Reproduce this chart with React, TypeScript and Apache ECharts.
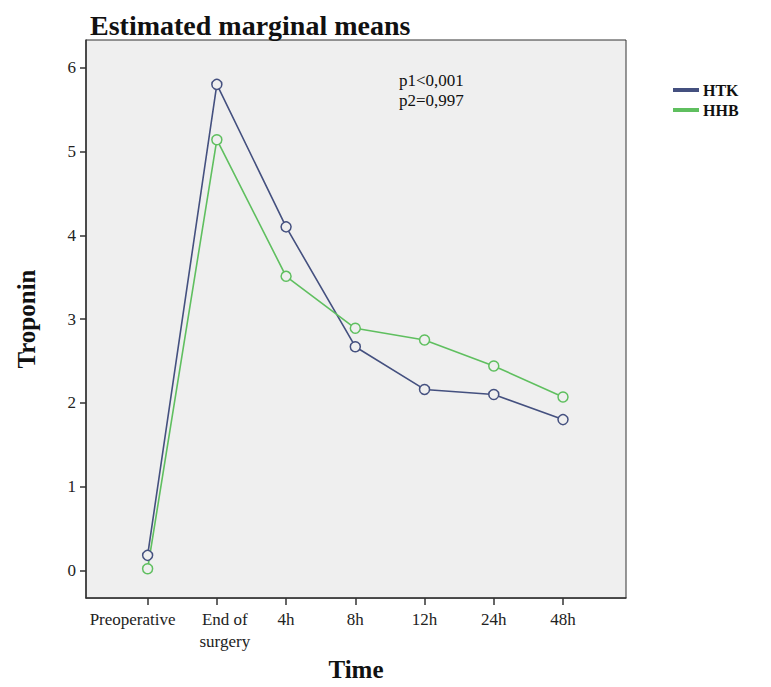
import React, { useEffect, useRef } from "react";
import * as echarts from "echarts";

const categories = ["Preoperative", "End of\nsurgery", "4h", "8h", "12h", "24h", "48h"];
const htkValues = [0.18, 5.8, 4.1, 2.67, 2.16, 2.1, 1.8];
const hhbValues = [0.02, 5.14, 3.51, 2.89, 2.75, 2.44, 2.07];
const yTicks = [0, 1, 2, 3, 4, 5, 6];
const xTicks = categories.map((_, i) => i);

const SERIF = "'Liberation Serif', 'Times New Roman', serif";
const BLUE = "#44507f";
const GREEN = "#5fbf5f";
const PLOT_BG = "#efefef";

// label style key per category (shifts labels like the original)
const labelStyleKey = ["shiftL", "shiftR", "n", "n", "n", "n", "n"];

export default function App() {
  const ref = useRef<HTMLDivElement>(null);
  useEffect(() => {
    if (!ref.current) return;
    const chart = echarts.init(ref.current, null, { renderer: "svg" });
    const labelBase = { fontFamily: SERIF, fontSize: 17, lineHeight: 22, color: "#222" };
    const fmt = (v: number) => {
      const i = Math.round(v);
      const txt = categories[i] ?? "";
      const key = labelStyleKey[i] ?? "n";
      return txt
        .split("\n")
        .map((line) => `{${key}|${line}}`)
        .join("\n");
    };
    const rich = {
      n: { ...labelBase },
      shiftL: { ...labelBase, padding: [0, 30, 0, 0] },
      shiftR: { ...labelBase, padding: [0, 0, 0, 16] },
    };
    chart.setOption({
      animation: false,
      backgroundColor: "#ffffff",
      title: {
        text: "Estimated marginal means",
        left: 85,
        top: 6,
        textStyle: { fontFamily: SERIF, fontWeight: "bold", fontSize: 28, color: "#111" },
      },
      legend: {
        orient: "vertical",
        left: 668,
        top: 77,
        itemWidth: 24,
        itemHeight: 2,
        itemGap: 4,
        icon: "rect",
        data: [
          { name: "HTK", itemStyle: { color: BLUE } },
          { name: "HHB", itemStyle: { color: GREEN } },
        ],
        textStyle: { fontFamily: SERIF, fontWeight: "bold", fontSize: 16, color: "#111" },
      },
      grid: {
        left: 86,
        top: 40,
        right: 145,
        bottom: 84,
        show: true,
        backgroundColor: PLOT_BG,
        borderColor: "#333",
        borderWidth: 1,
      },
      xAxis: [
        {
          type: "value",
          position: "bottom",
          min: -0.89,
          max: 6.91,
          splitLine: { show: false },
          axisLine: { show: true, onZero: false, lineStyle: { color: "#333", width: 1.5 } },
          axisTick: { show: true, customValues: xTicks, length: 7, lineStyle: { color: "#333", width: 1.5 } },
          axisLabel: {
            customValues: xTicks.slice(1),
            formatter: fmt,
            ...labelBase,
            margin: 10,
            rich,
          },
          name: "Time",
          nameLocation: "middle",
          nameGap: 51,
          nameTextStyle: { fontFamily: SERIF, fontWeight: "bold", fontSize: 25, color: "#111" },
        },
        {
          type: "value",
          position: "bottom",
          offset: 0,
          min: -0.89,
          max: 6.91,
          splitLine: { show: false },
          axisLine: { show: false, onZero: false },
          axisTick: { show: false },
          axisLabel: {
            customValues: xTicks.slice(0, 1),
            formatter: fmt,
            ...labelBase,
            margin: 10,
            rich,
          },
        },
      ],
      yAxis: {
        type: "value",
        min: -0.33,
        max: 6.33,
        splitLine: { show: false },
        axisLine: { show: true, onZero: false, lineStyle: { color: "#333", width: 1.5 } },
        axisTick: { show: true, customValues: yTicks, length: 6, lineStyle: { color: "#333", width: 1.5 } },
        axisLabel: {
          customValues: yTicks,
          formatter: (v: number) => String(Math.round(v)),
          fontFamily: SERIF,
          fontSize: 17,
          color: "#222",
          margin: 10,
        },
        name: "Troponin",
        nameLocation: "middle",
        nameGap: 47,
        nameTextStyle: { fontFamily: SERIF, fontWeight: "bold", fontSize: 25, color: "#111" },
      },
      graphic: [
        {
          type: "text",
          left: 399,
          top: 70,
          style: {
            text: "p1<0,001\np2=0,997",
            font: `17px ${SERIF}`,
            lineHeight: 20,
            fill: "#111",
          },
        },
      ],
      series: [
        {
          name: "HTK",
          type: "line",
          xAxisIndex: 0,
          data: htkValues.map((v, i) => [i, v]),
          symbol: "circle",
          symbolSize: 10,
          lineStyle: { color: BLUE, width: 1.6 },
          itemStyle: { color: PLOT_BG, borderColor: BLUE, borderWidth: 1.5 },
        },
        {
          name: "HHB",
          type: "line",
          xAxisIndex: 0,
          data: hhbValues.map((v, i) => [i, v]),
          symbol: "circle",
          symbolSize: 10,
          lineStyle: { color: GREEN, width: 1.6 },
          itemStyle: { color: PLOT_BG, borderColor: GREEN, borderWidth: 1.5 },
        },
      ],
    });
    return () => chart.dispose();
  }, []);
  return (
    <div
      ref={ref}
      style={{ position: "fixed", left: 0, top: 0, width: 771, height: 687 }}
    />
  );
}
